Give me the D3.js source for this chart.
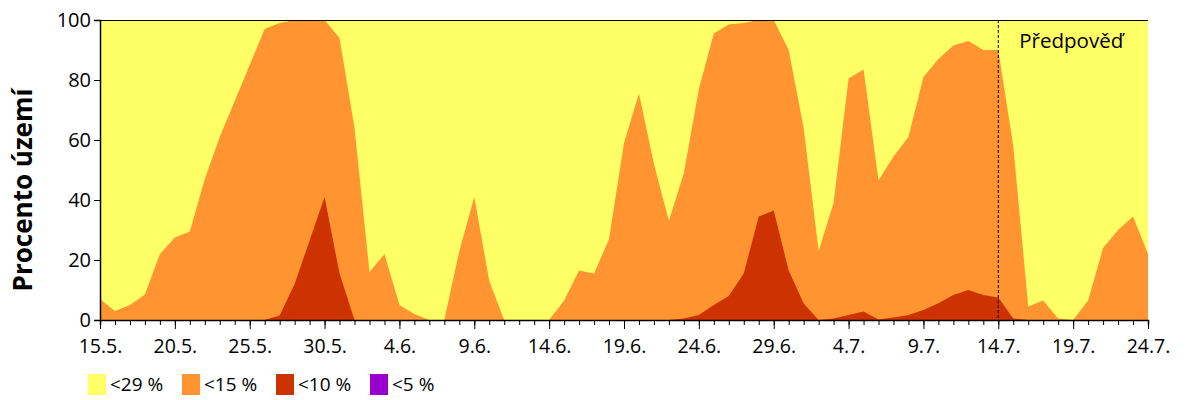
<!DOCTYPE html>
<html>
<head>
<meta charset="utf-8">
<script src="https://cdn.jsdelivr.net/npm/d3@7"></script>
<style>
  body { margin: 0; background: #fff; }
  text { font-family: "Open Sans", "Liberation Sans", sans-serif; }
</style>
</head>
<body>
<div id="chart"></div>
<script>
// days from 15.5. to 24.7. (71 daily values)
var startDate = new Date(Date.UTC(2020, 4, 15));
var dayCount = 71;
var forecastDay = 60; // 14.7.

// percent of territory per class
var below29 = d3.range(dayCount).map(() => 100);
var below15 = [7, 3, 5, 8.5, 22, 27.5, 29.5, 47, 61, 73, 85, 97, 99, 100, 100, 100, 94, 64,
  16, 22, 5, 2, 0, 0, 23, 41, 13, 0, 0, 0, 0, 6.5, 16.5, 15.5, 27, 59, 75.5, 52, 33, 49,
  77, 95.5, 98.5, 99, 100, 100, 90, 64, 23, 39, 80.5, 83.5, 46.5, 54.5, 61, 81, 87, 91.5, 93, 90,
  90, 58, 4.5, 6.5, 0.5, 0, 6.5, 24, 30, 34.5, 22];
var below10 = [0, 0, 0, 0, 0, 0, 0, 0, 0, 0, 0, 0, 1.5, 12, 26.5, 41, 15.5, 0,
  0, 0, 0, 0, 0, 0, 0, 0, 0, 0, 0, 0, 0, 0, 0, 0, 0, 0, 0, 0, 0, 0.5,
  1.7, 5, 8, 15.5, 34.5, 36.5, 16.5, 5.5, 0, 0.5, 1.7, 2.8, 0.2, 0.8, 1.7, 3.3, 5.6, 8.3, 10, 8.3,
  7.5, 0.5, 0, 0, 0, 0, 0, 0, 0, 0, 0];
var below5 = d3.range(dayCount).map(() => 0);

var seriesNames = ["<29 %", "<15 %", "<10 %", "<5 %"];
var seriesColors = ["#FFFF66", "#FF9430", "#CC3300", "#9900CC"];
var yTicks = [0, 20, 40, 60, 80, 100];
var yTitle = "Procento území";
var forecastLabel = "Předpověď";

var svgWidth = 1200;
var svgHeight = 400;
var margin = { top: 20, right: 52, bottom: 80, left: 100 };
var width = svgWidth - margin.left - margin.right;
var height = svgHeight - margin.top - margin.bottom;

var svg = d3.select("#chart").append("svg")
  .attr("width", svgWidth)
  .attr("height", svgHeight);

var chartGroup = svg.append("g")
  .attr("transform", `translate(${margin.left}, ${margin.top})`);

var dates = d3.range(dayCount).map(i => d3.utcDay.offset(startDate, i));

var xScale = d3.scaleUtc()
  .domain([dates[0], dates[dayCount - 1]])
  .range([0, width]);

var yScale = d3.scaleLinear()
  .domain([0, 100])
  .range([height, 0]);

// areas, drawn biggest first
var allSeries = [below29, below15, below10, below5];
allSeries.forEach(function (vals, k) {
  var area = d3.area()
    .x((d, i) => xScale(dates[i]))
    .y0(height)
    .y1(d => yScale(d));
  chartGroup.append("path")
    .datum(vals)
    .attr("d", area)
    .attr("fill", seriesColors[k])
    .attr("stroke", "none");
});

// forecast divider
var fx = xScale(dates[forecastDay]);
chartGroup.append("line")
  .attr("x1", fx).attr("x2", fx)
  .attr("y1", 0).attr("y2", height)
  .attr("stroke", "#000")
  .attr("stroke-width", 1)
  .attr("stroke-dasharray", "3,2");

chartGroup.append("text")
  .attr("x", fx + 21)
  .attr("y", 28)
  .attr("font-size", "20.5px")
  .attr("fill", "#000")
  .text(forecastLabel);

// top frame line
chartGroup.append("line")
  .attr("x1", 0).attr("x2", width)
  .attr("y1", 0.5).attr("y2", 0.5)
  .attr("stroke", "#000");

// x axis: minor ticks each day, labels each 5 days
var majorDates = dates.filter((d, i) => i % 5 === 0);
var fmt = d => d.getUTCDate() + "." + (d.getUTCMonth() + 1) + ".";

var xMinor = chartGroup.append("g")
  .attr("transform", `translate(0, ${height})`)
  .call(d3.axisBottom(xScale).tickValues(dates).tickSize(5).tickFormat(""));
xMinor.select(".domain").attr("stroke-width", 1.5);

var xMajor = chartGroup.append("g")
  .attr("transform", `translate(0, ${height})`)
  .call(d3.axisBottom(xScale).tickValues(majorDates).tickSize(9).tickPadding(10).tickFormat(fmt));
xMajor.select(".domain").remove();
xMajor.selectAll("text")
  .attr("font-size", "19.5px")
  .attr("fill", "#000");

var yAxis = chartGroup.append("g")
  .call(d3.axisLeft(yScale).tickValues(yTicks).tickSize(6).tickPadding(3));
yAxis.select(".domain").attr("stroke-width", 1.5);
yAxis.selectAll("text")
  .attr("font-size", "20px")
  .attr("fill", "#000");

// y title
svg.append("text")
  .attr("transform", "rotate(-90)")
  .attr("x", -(margin.top + height / 2 + 20))
  .attr("y", 32)
  .attr("text-anchor", "middle")
  .attr("font-size", "26px")
  .attr("font-weight", "bold")
  .attr("fill", "#000")
  .text(yTitle);

// legend
var legend = svg.append("g")
  .attr("transform", "translate(88, 374)");
seriesNames.forEach(function (name, k) {
  var g = legend.append("g").attr("transform", `translate(${k * 94}, 0)`);
  g.append("rect")
    .attr("width", 18).attr("height", 21)
    .attr("fill", seriesColors[k]);
  g.append("text")
    .attr("x", 22).attr("y", 17)
    .attr("font-size", "19px")
    .attr("fill", "#000")
    .text(name);
});
</script>
</body>
</html>
